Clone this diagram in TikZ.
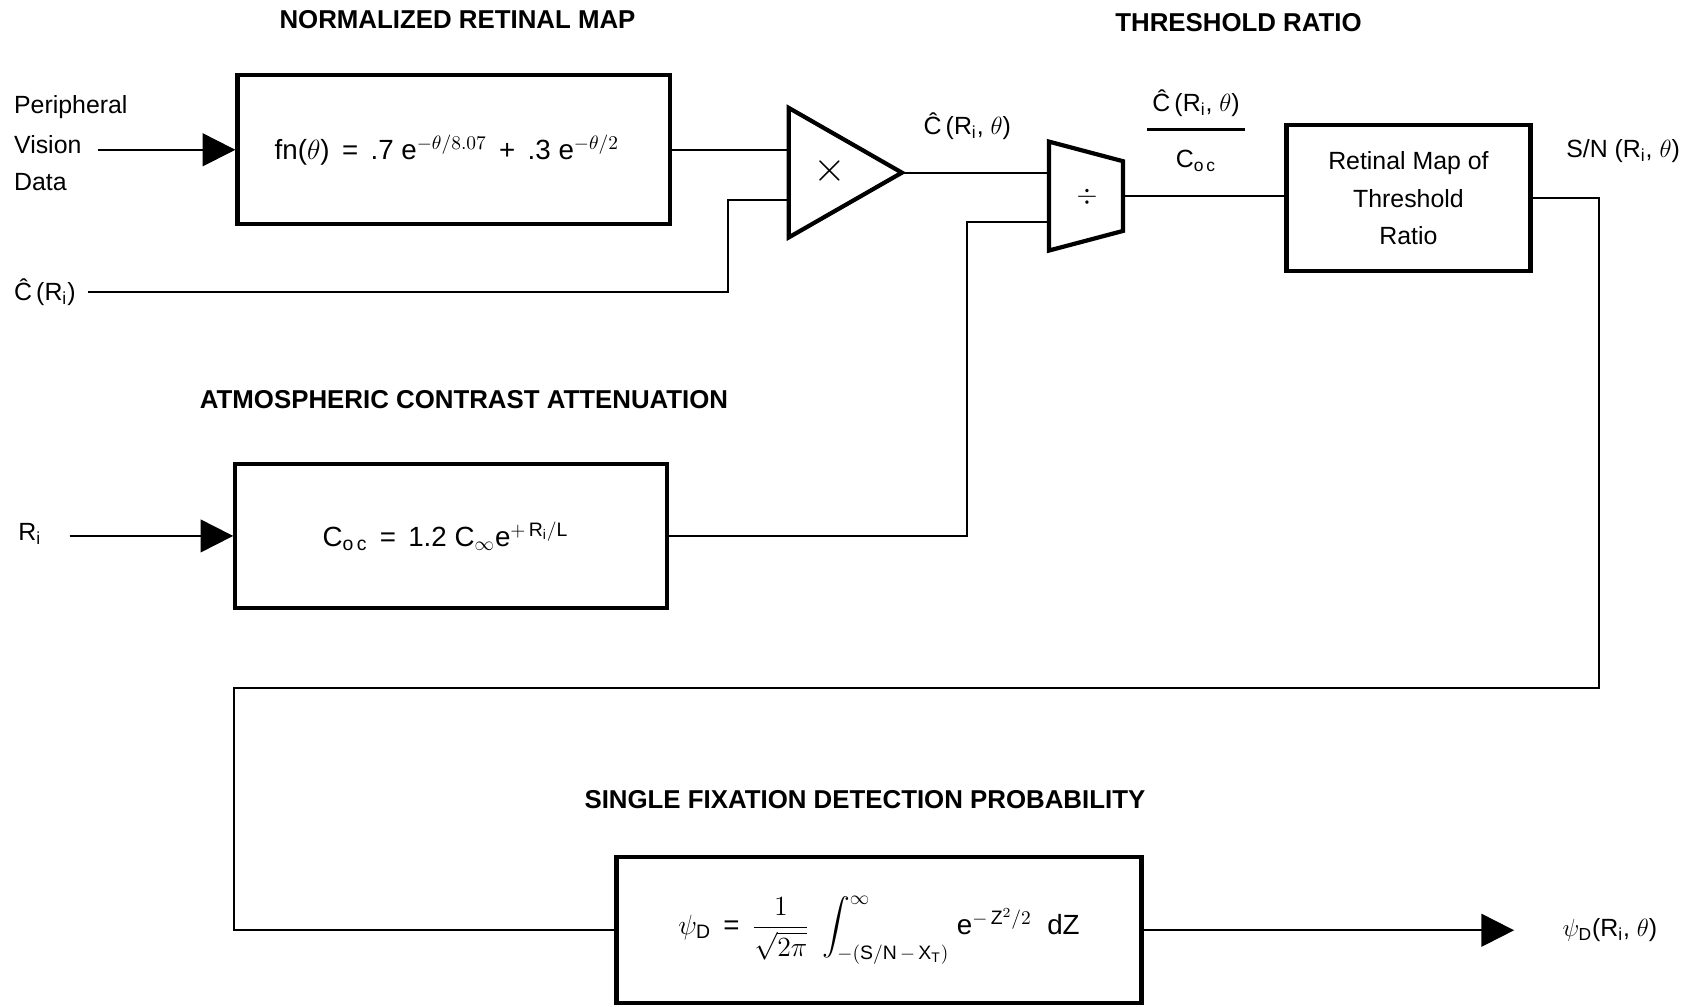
\RequirePackage{fix-cm}
\documentclass[tikz,border=0pt]{standalone}
\usepackage{amsmath,amssymb}
\usepackage{fontspec}
\setmainfont{Liberation Sans}
\usetikzlibrary{arrows.meta,calc}
\tikzset{
  >={Triangle[length=6mm,width=6mm]},
  blk/.style={draw,line width=2.2pt,inner sep=0pt,font=\fontsize{13}{19.6}\selectfont},
  eqn/.style={font=\fontsize{14.5}{17}\selectfont},
  gate/.style={inner sep=0pt,outer sep=0pt},
  ttl/.style={inner sep=0pt,font=\fontsize{13.5}{16}\selectfont\bfseries},
  lbl/.style={inner sep=0pt,font=\fontsize{13}{14}\selectfont},
  every picture/.style={line width=1.1pt},
}

\begin{document}
\begin{tikzpicture}[x=0.02cm,y=-0.02cm]
\useasboundingbox (0,0) rectangle (1568,924);
% titles
\node[ttl] (t1) at (420,18) {NORMALIZED RETINAL MAP};
\node[ttl] (t2) at (1137,21) {THRESHOLD RATIO};
\node[ttl] (t3) at (426,367) {ATMOSPHERIC CONTRAST ATTENUATION};
\node[ttl] (t4) at (794,734) {SINGLE FIXATION DETECTION PROBABILITY};
% blocks
\node[blk,eqn,minimum width=7.94cm,minimum height=2.74cm] (fn) at (416.5,137.5)
  {\hspace*{-0.25cm}fn($\theta$) \,=\, .7 e$^{-\theta/8.07}$ \,+\, .3 e$^{-\theta/2}$};
\node[blk,eqn,minimum width=7.92cm,minimum height=2.64cm] (ce) at (414,492)
  {\hspace*{-0.2cm}C\textsubscript{o\,c} \,=\, 1.2 C$_\infty$e$^{+\,\mathrm{R_i/L}}$};
\node[blk,minimum width=4.48cm,minimum height=2.68cm,align=center] (rm) at (1293,182)
  {Retinal Map of\\Threshold\\Ratio};
\node[blk,eqn,minimum width=9.64cm,minimum height=2.68cm] (sd) at (807,854)
  {$\psi_{\mathrm D}$ \,=\, $\dfrac{1}{\sqrt{2\pi}}\;\displaystyle\int_{-(\mathrm{S/N}\,-\,\mathrm{X_T})}^{\infty}$
   e$^{-\,\mathrm{Z}^2/2}$\; dZ};
% multiplier and divider
\node[gate,minimum width=2.08cm,minimum height=2.38cm] (mul) at (776,158.5) {};
\draw[line width=2.2pt] (mul.north west) -- (mul.east) -- (mul.south west) -- cycle;
\node[font=\fontsize{22}{22}\selectfont,inner sep=0pt] (mulx) at (762,157) {$\times$};
\node[gate,minimum width=1.36cm,minimum height=2cm] (dv) at (997,180) {};
\draw[line width=2.2pt] (dv.north west) -- ($(dv.north east)+(0,18)$)
  -- ($(dv.south east)+(0,-18)$) -- (dv.south west) -- cycle;
\node[inner sep=0pt,font=\fontsize{14}{14}\selectfont] (dvx) at (998,181) {$\div$};
% inputs
\foreach \t/\y [count=\k] in {Peripheral/98,Vision/133,Data/167}
  \node[lbl,anchor=west] (pv\k) at (12,\y) {\t};
\node[lbl,anchor=west] (cr) at (12,268) {\^C\,(R$_{\mathrm i}$)};
\node[lbl,anchor=west] (ri) at (16,490) {R$_{\mathrm i}$};
% signal labels
\node[lbl] (cth) at (888,116) {\^C\,(R$_{\mathrm i}$, $\theta$)};
\node[lbl,align=center] (rat) at (1098,120)
  {\^C\,(R$_{\mathrm i}$, $\theta$)\\[-4pt]\rule{1.8cm}{1.5pt}\\[5pt]C\textsubscript{o\,c}};
\node[lbl] (sn) at (1490,139) {S/N (R$_{\mathrm i}$, $\theta$)};
\node[lbl] (psi) at (1478,854) {$\psi_{\mathrm D}$(R$_{\mathrm i}$, $\theta$)};
\coordinate (j1) at (668,184);
\coordinate (j2) at (888,204);
\coordinate (fr) at (1468,632);
\coordinate (fl) at (215,632);
\coordinate (tip) at (1390,857);
% connectors
\draw[->] ([xshift=2.8mm]fn.west -| pv2.east) -- (fn.west);
\draw (fn.east) -- (fn.east -| mul.west);
\draw ([xshift=2mm]cr.east) -- (cr.east -| j1) -- (j1) -- (j1 -| mul.west);
\draw (mul.east) -- (mul.east -| dv.west);
\draw[->] ([xshift=5mm]ce.west -| ri.east) -- (ce.west);
\draw (ce.east) -- (ce.east -| j2) -- (j2) -- (j2 -| dv.west);
\draw (dv.east) -- (dv.east -| rm.west);
\draw (rm.east) -| (fr) -- (fl) |- (sd.west);
\draw[->] (sd.east) -- (sd.east -| tip);
\end{tikzpicture}
\end{document}
